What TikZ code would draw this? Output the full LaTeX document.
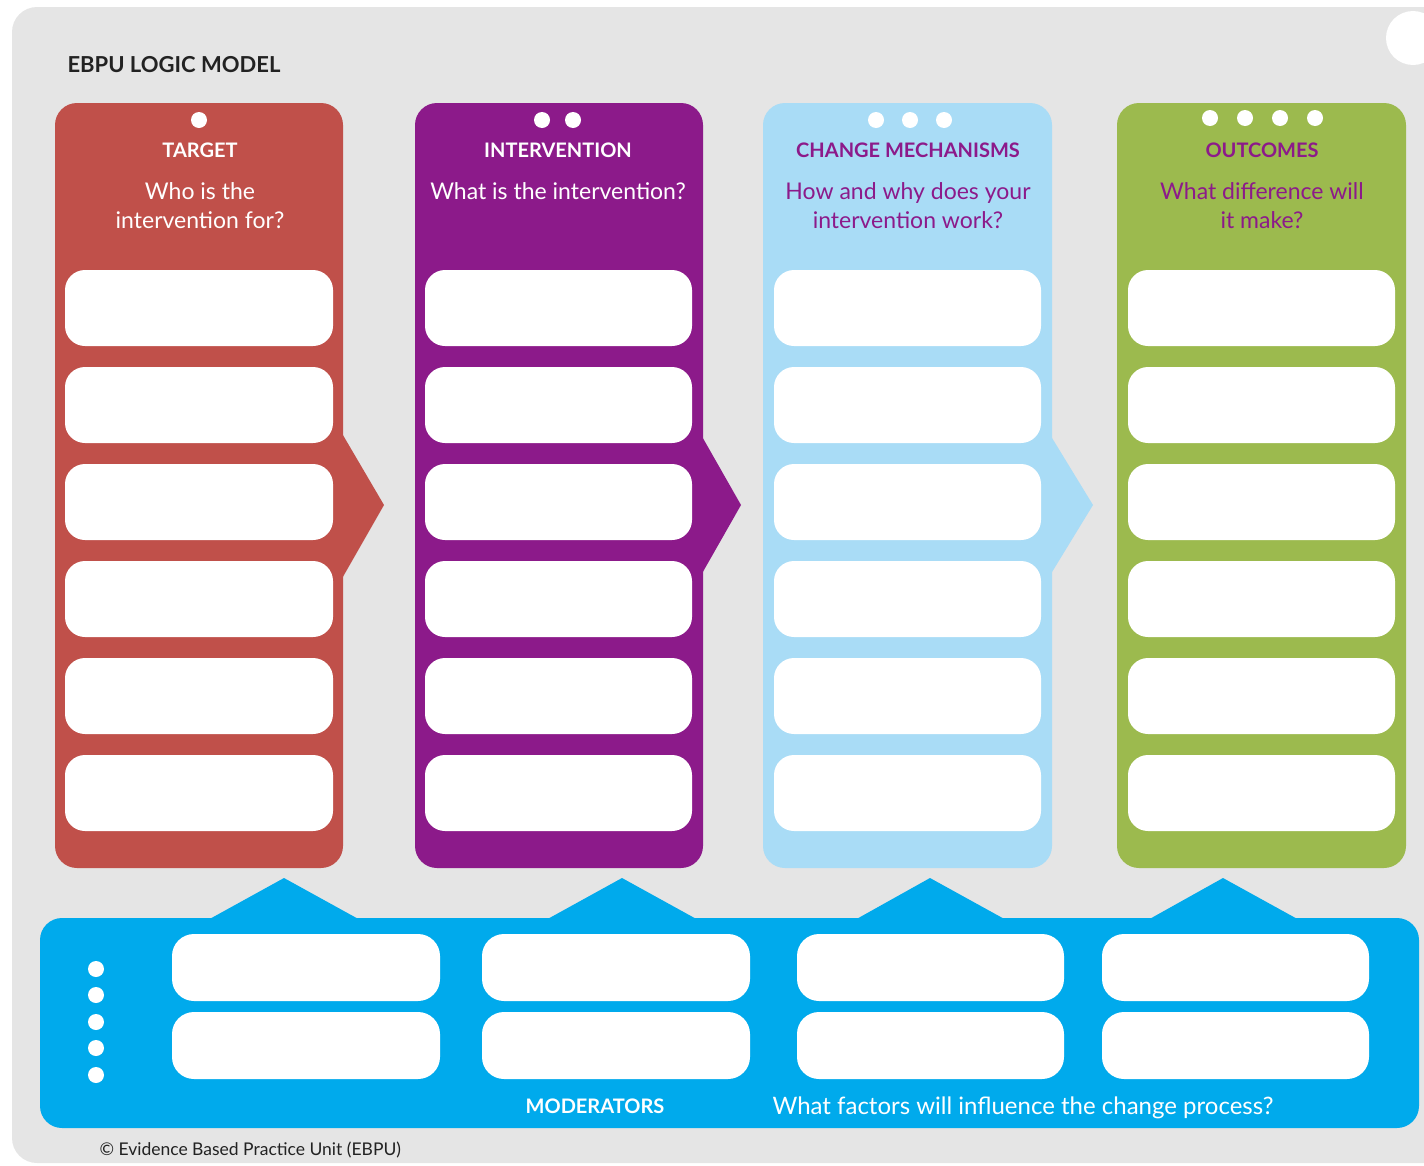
\documentclass[tikz,border=0pt]{standalone}
\usepackage{fontspec}
\setmainfont{Lato}
\definecolor{bggrey}{HTML}{E5E5E5}
\definecolor{targetred}{HTML}{C0504A}
\definecolor{intpurple}{HTML}{8C1A8A}
\definecolor{mechblue}{HTML}{A9DCF6}
\definecolor{outgreen}{HTML}{9CBA4E}
\definecolor{modblue}{HTML}{00AAEC}
\definecolor{inkdark}{HTML}{222222}
\tikzset{
  colbox/.style={rounded corners=22pt},
  entrybox/.style={fill=white, rounded corners=20pt},
  modbox/.style={fill=white, rounded corners=22pt},
  headfont/.style={font=\fontsize{20}{24}\selectfont\bfseries},
  askfont/.style={font=\fontsize{23}{29}\selectfont},
}
\begin{document}
\begin{tikzpicture}[x=1pt,y=-1pt]
        \useasboundingbox (0,0) rectangle (1424,1165);
        \clip (0,0) rectangle (1424,1165);
        {
        
        % Drawing grey sheet
        \fill [bggrey, rounded corners=25pt] (12,7) rectangle (1470,1163);%
        \fill [white] (1413,38) circle (27pt);%
        \draw (64,72) node [anchor=base west, inkdark, font=\fontsize{22}{26}\selectfont\bfseries] {EBPU LOGIC MODEL};%
        
        % Drawing column TARGET
        \fill [targetred, colbox] (55,103) rectangle (343,868);%
        \fill [targetred] (340,430) -- (384,505) -- (340,582) -- cycle;%
        \fill [white] (199,120) circle (8pt);%
        \draw (200,157) node [anchor=base, white, headfont] {TARGET};%
        \draw (200,199) node [anchor=base, white, askfont] {Who is the};%
        \draw (200,228) node [anchor=base, white, askfont] {intervention for?};%
        \fill [entrybox] (65,270) rectangle (333,346);%
        \fill [entrybox] (65,367) rectangle (333,443);%
        \fill [entrybox] (65,464) rectangle (333,540);%
        \fill [entrybox] (65,561) rectangle (333,637);%
        \fill [entrybox] (65,658) rectangle (333,734);%
        \fill [entrybox] (65,755) rectangle (333,831);%
        
        % Drawing column INTERVENTION
        \fill [intpurple, colbox] (415,103) rectangle (703,868);%
        \fill [intpurple] (700,433) -- (741,505) -- (700,577) -- cycle;%
        \fill [white] (542,120) circle (8pt);%
        \fill [white] (573,120) circle (8pt);%
        \draw (558,157) node [anchor=base, white, headfont] {INTERVENTION};%
        \draw (558,199) node [anchor=base, white, askfont] {What is the intervention?};%
        \fill [entrybox] (425,270) rectangle (692,346);%
        \fill [entrybox] (425,367) rectangle (692,443);%
        \fill [entrybox] (425,464) rectangle (692,540);%
        \fill [entrybox] (425,561) rectangle (692,637);%
        \fill [entrybox] (425,658) rectangle (692,734);%
        \fill [entrybox] (425,755) rectangle (692,831);%
        
        % Drawing column CHANGE MECHANISMS
        \fill [mechblue, colbox] (763,103) rectangle (1052,868);%
        \fill [mechblue] (1049,433) -- (1093,505) -- (1049,577) -- cycle;%
        \fill [white] (876,120) circle (8pt);%
        \fill [white] (910,120) circle (8pt);%
        \fill [white] (944,120) circle (8pt);%
        \draw (908,157) node [anchor=base, intpurple, headfont] {CHANGE MECHANISMS};%
        \draw (908,199) node [anchor=base, intpurple, askfont] {How and why does your};%
        \draw (908,228) node [anchor=base, intpurple, askfont] {intervention work?};%
        \fill [entrybox] (774,270) rectangle (1041,346);%
        \fill [entrybox] (774,367) rectangle (1041,443);%
        \fill [entrybox] (774,464) rectangle (1041,540);%
        \fill [entrybox] (774,561) rectangle (1041,637);%
        \fill [entrybox] (774,658) rectangle (1041,734);%
        \fill [entrybox] (774,755) rectangle (1041,831);%
        
        % Drawing column OUTCOMES
        \fill [outgreen, colbox] (1117,103) rectangle (1406,868);%
        \fill [white] (1210,118) circle (8pt);%
        \fill [white] (1245,118) circle (8pt);%
        \fill [white] (1280,118) circle (8pt);%
        \fill [white] (1315,118) circle (8pt);%
        \draw (1262,157) node [anchor=base, intpurple, headfont] {OUTCOMES};%
        \draw (1262,199) node [anchor=base, intpurple, askfont] {What difference will};%
        \draw (1262,228) node [anchor=base, intpurple, askfont] {it make?};%
        \fill [entrybox] (1128,270) rectangle (1395,346);%
        \fill [entrybox] (1128,367) rectangle (1395,443);%
        \fill [entrybox] (1128,464) rectangle (1395,540);%
        \fill [entrybox] (1128,561) rectangle (1395,637);%
        \fill [entrybox] (1128,658) rectangle (1395,734);%
        \fill [entrybox] (1128,755) rectangle (1395,831);%
        
        % Drawing band MODERATORS
        \fill [modblue, rounded corners=22pt] (40,918) rectangle (1419,1128);%
        \fill [modblue] (206,921) -- (284,878) -- (362,921) -- cycle;%
        \fill [modblue] (544,921) -- (622,878) -- (700,921) -- cycle;%
        \fill [modblue] (853,921) -- (930,878) -- (1008,921) -- cycle;%
        \fill [modblue] (1146,921) -- (1223,878) -- (1301,921) -- cycle;%
        \fill [white] (96,969) circle (8pt);%
        \fill [white] (96,995) circle (8pt);%
        \fill [white] (96,1022) circle (8pt);%
        \fill [white] (96,1048) circle (8pt);%
        \fill [white] (96,1075) circle (8pt);%
        \fill [modbox] (172,934) rectangle (440,1001);%
        \fill [modbox] (172,1012) rectangle (440,1079);%
        \fill [modbox] (482,934) rectangle (750,1001);%
        \fill [modbox] (482,1012) rectangle (750,1079);%
        \fill [modbox] (797,934) rectangle (1064,1001);%
        \fill [modbox] (797,1012) rectangle (1064,1079);%
        \fill [modbox] (1102,934) rectangle (1369,1001);%
        \fill [modbox] (1102,1012) rectangle (1369,1079);%
        \draw (595,1113) node [anchor=base, white, headfont] {MODERATORS};%
        \draw (769,1114) node [anchor=base west, white, font=\fontsize{24}{29}\selectfont] {What factors will influence the change process?};%
        
        % Marking copyright line
        \draw (96,1155) node [anchor=base west, inkdark, font=\fontsize{17.5}{21}\selectfont] {© Evidence Based Practice Unit (EBPU)};%
        }
    \end{tikzpicture}
\end{document}
